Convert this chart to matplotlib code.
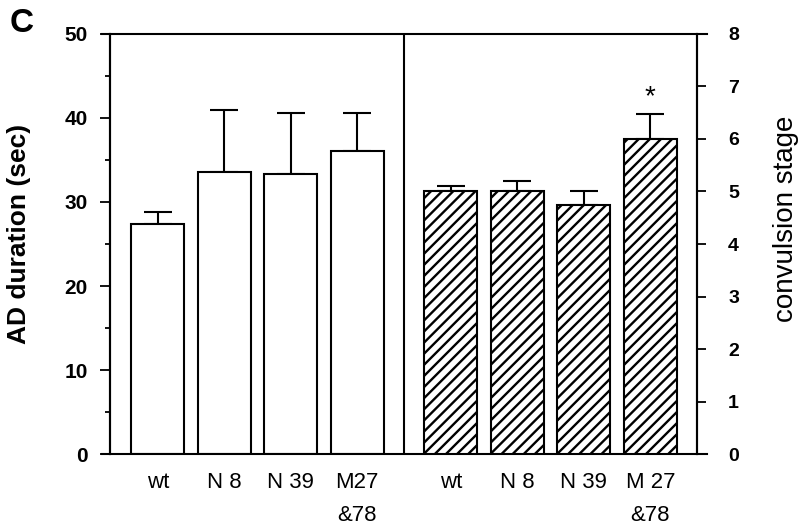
import numpy as np
import matplotlib.pyplot as plt
from matplotlib.lines import Line2D

plt.rcParams['font.family'] = ['Liberation Sans', 'DejaVu Sans']
plt.rcParams['hatch.linewidth'] = 1.7

# data
groups = ['wt', 'N 8', 'N 39', 'M27\n&78']
groups_r = ['wt', 'N 8', 'N 39', 'M 27\n&78']
ad_mean = [27.4, 33.6, 33.3, 36.1]
ad_err = [1.4, 7.4, 7.3, 4.5]
stage_mean = [5.0, 5.0, 4.74, 6.0]
stage_err = [0.11, 0.2, 0.26, 0.48]

x_left = np.array([0.72, 1.72, 2.72, 3.72])
x_right = np.array([5.13, 6.13, 7.13, 8.13])
w = 0.8

fig = plt.figure(figsize=(8, 5.27), dpi=100)
ax = fig.add_axes([0.1375, 0.1385, 0.7335, 0.797])
ax2 = ax.twinx()

# AD duration (white bars)
ax.bar(x_left, ad_mean, width=w, color='white', edgecolor='black', linewidth=1.5, zorder=2)
ax.errorbar(x_left, ad_mean, yerr=[np.zeros(4), ad_err], fmt='none', ecolor='black',
            elinewidth=1.5, capsize=10, capthick=1.5, zorder=1)

# convulsion stage (hatched bars)
ax2.bar(x_right, stage_mean, width=w, color='white', edgecolor='black', hatch='///',
        linewidth=1.5, zorder=2)
ax2.errorbar(x_right, stage_mean, yerr=[np.zeros(4), stage_err], fmt='none', ecolor='black',
             elinewidth=1.5, capsize=10, capthick=1.5, zorder=1)
ax2.text(x_right[3], 6.8, '*', ha='center', va='center', fontsize=20)

ax.set_xlim(0, 8.83)
ax.set_ylim(0, 50)
ax2.set_ylim(0, 8)
ax.axvline(4.42, color='black', linewidth=1.5)

ax.set_yticks(np.arange(0, 51, 10))
ax.set_yticks(np.arange(5, 50, 10), minor=True)
ax.tick_params(axis='y', which='major', direction='out', length=7, width=1.3,
               labelsize=15, pad=9)
ax.tick_params(axis='y', which='minor', direction='out', length=3.5, width=1.3)
for t in ax.get_yticklabels():
    t.set_fontweight('bold')
ax2.set_yticks(np.arange(0, 9, 1))
ax2.tick_params(axis='y', direction='out', length=6.5, width=1.3, labelsize=14, pad=16)
for t in ax2.get_yticklabels():
    t.set_fontweight('bold')

ax.set_xticks(np.concatenate([x_left, x_right]))
ax.set_xticklabels(groups + groups_r, fontsize=16, linespacing=1.75, va='top')
ax.tick_params(axis='x', length=0, pad=13)

for a in (ax, ax2):
    for s in a.spines.values():
        s.set_linewidth(1.5)
    a.spines['top'].set_visible(False)
    a.spines['bottom'].set_visible(False)
for yy in (0, 1):
    ax.add_line(Line2D([-0.0136, 1.017], [yy, yy], transform=ax.transAxes, color='black',
                       linewidth=1.5, clip_on=False))

ax.set_ylabel('AD duration (sec)', fontsize=19, fontweight='bold')
ax.yaxis.set_label_coords(-0.135, 0.524)
ax2.set_ylabel('convulsion stage', fontsize=20, rotation=90)
ax2.yaxis.set_label_coords(1.13, 0.56)

fig.text(0.012, 0.985, 'C', fontsize=24, fontweight='bold', va='top', ha='left')

fig.savefig('out.png', dpi=100)
